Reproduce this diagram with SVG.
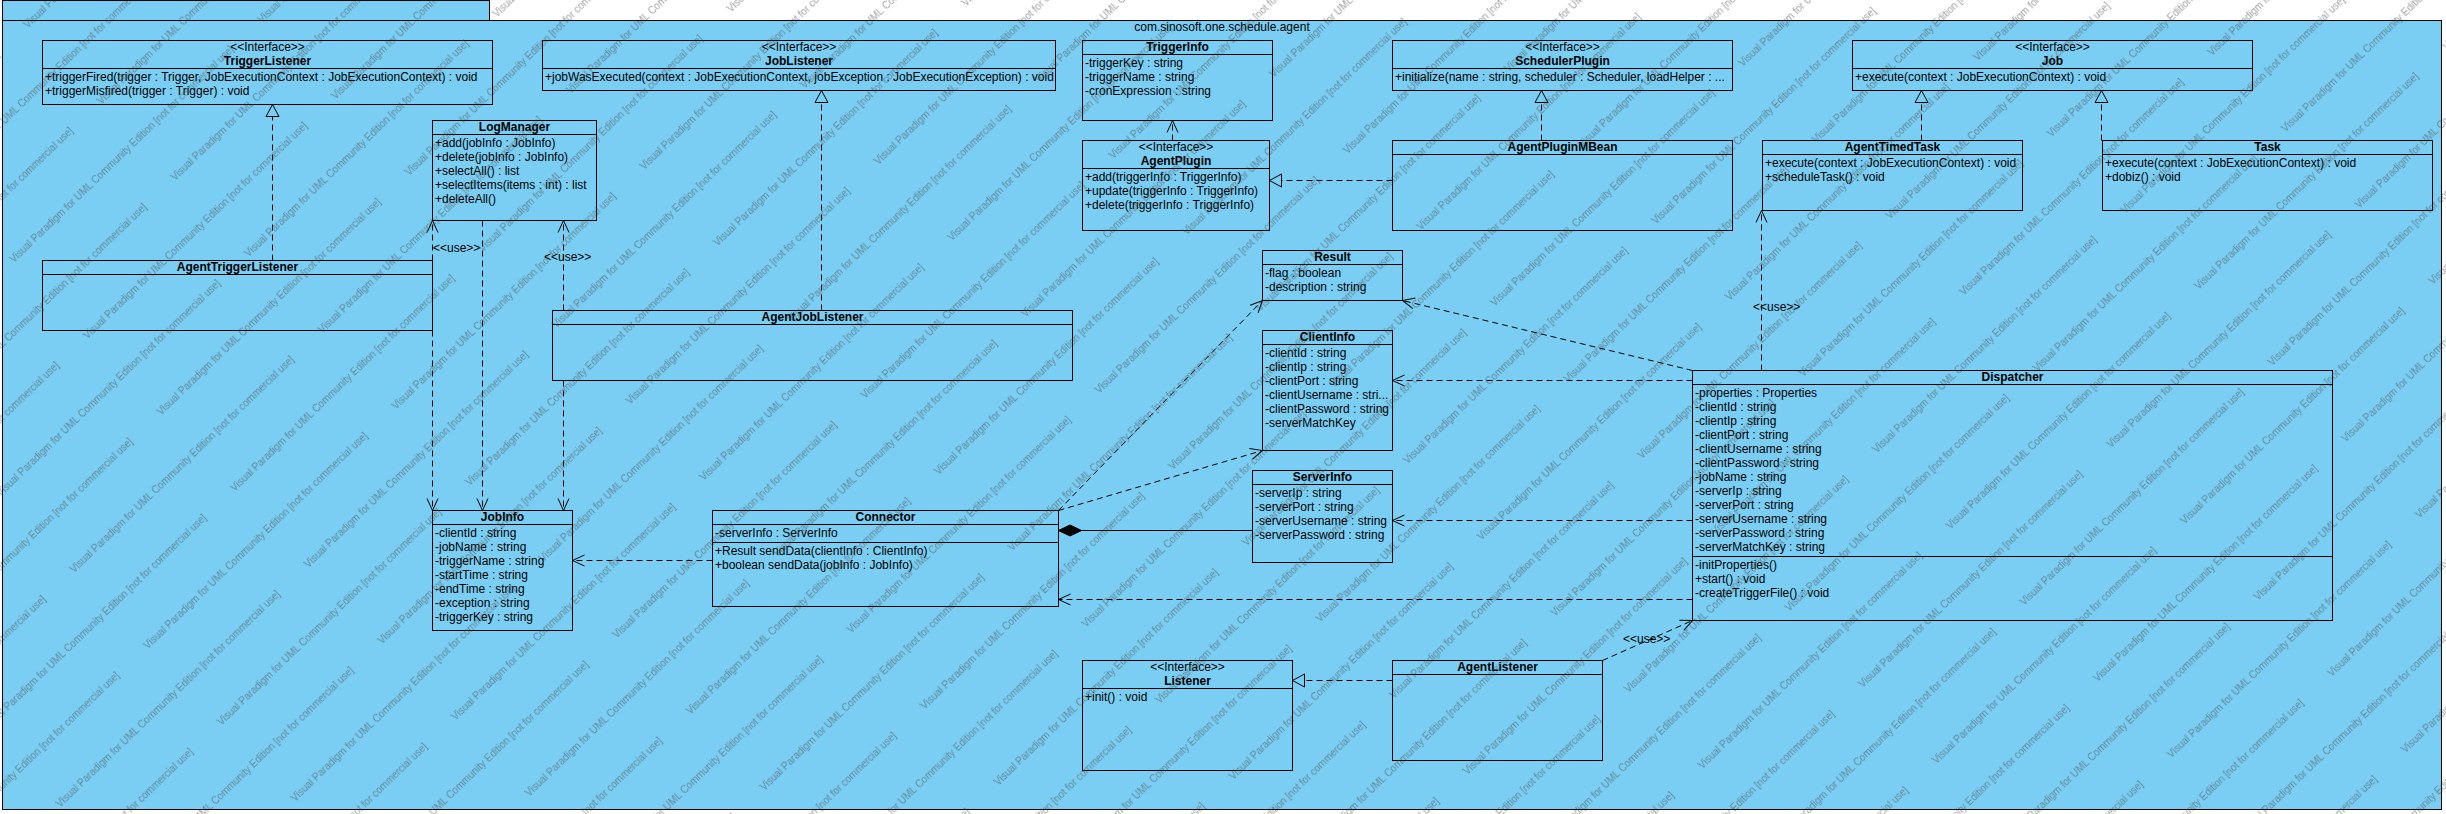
<svg xmlns="http://www.w3.org/2000/svg" width="2446" height="814" viewBox="0 0 2446 814">
<style>
.box{fill:#7BCEF3;stroke:#000;stroke-width:1}
.dv{stroke:#000;stroke-width:1}
.t{font-family:"Liberation Sans",Arial,sans-serif;font-size:12px;fill:#000}
.n{font-weight:bold;text-anchor:middle}
.c{text-anchor:middle}
.dash{fill:none;stroke:#000;stroke-width:1;stroke-dasharray:6,4}
.solid{fill:none;stroke:#000;stroke-width:1}
.wm{font-family:"Liberation Sans",Arial,sans-serif;font-size:10px;fill:#404040;fill-opacity:0.5}
</style>
<defs>
<marker id="open" markerUnits="userSpaceOnUse" viewBox="-1 -1 14 14" refX="12" refY="6" markerWidth="14" markerHeight="14" orient="auto">
<path d="M0,0.5 L12,6 L0,11.5" fill="none" stroke="#000" stroke-width="1"/>
</marker>
<marker id="tri" markerUnits="userSpaceOnUse" viewBox="-1 -1 15 16" refX="12" refY="6.5" markerWidth="15" markerHeight="16" orient="auto">
<path d="M0,0 L12,6.5 L0,13 Z" fill="#7BCEF3" stroke="#000" stroke-width="1"/>
</marker>
<marker id="dia" markerUnits="userSpaceOnUse" viewBox="-1 -1 25 13" refX="0" refY="5.5" markerWidth="25" markerHeight="13" orient="auto">
<path d="M0,5.5 L11.5,0 L23,5.5 L11.5,11 Z" fill="#000" stroke="#000" stroke-width="1"/>
</marker>
<pattern id="wm" patternUnits="userSpaceOnUse" width="345" height="106" patternTransform="rotate(-44)">
<text class="wm" x="0" y="40">Visual Paradigm for UML Community Edition [not for commercial use]</text>
<text class="wm" x="172" y="93">Visual Paradigm for UML Community Edition [not for commercial use]</text>
<text class="wm" x="-173" y="93">Visual Paradigm for UML Community Edition [not for commercial use]</text>
</pattern>
</defs>
<rect x="0" y="0" width="2446" height="814" fill="#fff"/>
<g id="package">
<rect class="box" x="2.5" y="0.5" width="487" height="20"/>
<rect class="box" x="2.5" y="20.5" width="2439" height="789"/>
<text class="t c" x="1222" y="31">com.sinosoft.one.schedule.agent</text>
</g>
<g id="TriggerListener">
<rect class="box" x="42.5" y="40.5" width="450" height="64"/>
<line class="dv" x1="42.5" y1="68.5" x2="492.5" y2="68.5"/>
<text class="t c" x="267.5" y="51">&lt;&lt;Interface&gt;&gt;</text>
<text class="t n" x="267.5" y="65">TriggerListener</text>
<text class="t" x="45" y="81">+triggerFired(trigger : Trigger, JobExecutionContext : JobExecutionContext) : void</text>
<text class="t" x="45" y="95">+triggerMisfired(trigger : Trigger) : void</text>
</g>
<g id="LogManager">
<rect class="box" x="432.5" y="120.5" width="164" height="100"/>
<line class="dv" x1="432.5" y1="134.5" x2="596.5" y2="134.5"/>
<text class="t n" x="514.5" y="131">LogManager</text>
<text class="t" x="435" y="147">+add(jobInfo : JobInfo)</text>
<text class="t" x="435" y="161">+delete(jobInfo : JobInfo)</text>
<text class="t" x="435" y="175">+selectAll() : list</text>
<text class="t" x="435" y="189">+selectItems(items : int) : list</text>
<text class="t" x="435" y="203">+deleteAll()</text>
</g>
<g id="AgentTriggerListener">
<rect class="box" x="42.5" y="260.5" width="390" height="70"/>
<line class="dv" x1="42.5" y1="274.5" x2="432.5" y2="274.5"/>
<text class="t n" x="237.5" y="271">AgentTriggerListener</text>
</g>
<g id="JobListener">
<rect class="box" x="542.5" y="40.5" width="513" height="50"/>
<line class="dv" x1="542.5" y1="68.5" x2="1055.5" y2="68.5"/>
<text class="t c" x="799" y="51">&lt;&lt;Interface&gt;&gt;</text>
<text class="t n" x="799" y="65">JobListener</text>
<text class="t" x="545" y="81">+jobWasExecuted(context : JobExecutionContext, jobException : JobExecutionException) : void</text>
</g>
<g id="AgentJobListener">
<rect class="box" x="552.5" y="310.5" width="520" height="70"/>
<line class="dv" x1="552.5" y1="324.5" x2="1072.5" y2="324.5"/>
<text class="t n" x="812.5" y="321">AgentJobListener</text>
</g>
<g id="TriggerInfo">
<rect class="box" x="1082.5" y="40.5" width="190" height="80"/>
<line class="dv" x1="1082.5" y1="54.5" x2="1272.5" y2="54.5"/>
<text class="t n" x="1177.5" y="51">TriggerInfo</text>
<text class="t" x="1085" y="67">-triggerKey : string</text>
<text class="t" x="1085" y="81">-triggerName : string</text>
<text class="t" x="1085" y="95">-cronExpression : string</text>
</g>
<g id="AgentPlugin">
<rect class="box" x="1082.5" y="140.5" width="187" height="90"/>
<line class="dv" x1="1082.5" y1="168.5" x2="1269.5" y2="168.5"/>
<text class="t c" x="1176" y="151">&lt;&lt;Interface&gt;&gt;</text>
<text class="t n" x="1176" y="165">AgentPlugin</text>
<text class="t" x="1085" y="181">+add(triggerInfo : TriggerInfo)</text>
<text class="t" x="1085" y="195">+update(triggerInfo : TriggerInfo)</text>
<text class="t" x="1085" y="209">+delete(triggerInfo : TriggerInfo)</text>
</g>
<g id="SchedulerPlugin">
<rect class="box" x="1392.5" y="40.5" width="340" height="50"/>
<line class="dv" x1="1392.5" y1="68.5" x2="1732.5" y2="68.5"/>
<text class="t c" x="1562.5" y="51">&lt;&lt;Interface&gt;&gt;</text>
<text class="t n" x="1562.5" y="65">SchedulerPlugin</text>
<text class="t" x="1395" y="81">+initialize(name : string, scheduler : Scheduler, loadHelper : ...</text>
</g>
<g id="AgentPluginMBean">
<rect class="box" x="1392.5" y="140.5" width="340" height="90"/>
<line class="dv" x1="1392.5" y1="154.5" x2="1732.5" y2="154.5"/>
<text class="t n" x="1562.5" y="151">AgentPluginMBean</text>
</g>
<g id="Job">
<rect class="box" x="1852.5" y="40.5" width="400" height="50"/>
<line class="dv" x1="1852.5" y1="68.5" x2="2252.5" y2="68.5"/>
<text class="t c" x="2052.5" y="51">&lt;&lt;Interface&gt;&gt;</text>
<text class="t n" x="2052.5" y="65">Job</text>
<text class="t" x="1855" y="81">+execute(context : JobExecutionContext) : void</text>
</g>
<g id="AgentTimedTask">
<rect class="box" x="1762.5" y="140.5" width="260" height="70"/>
<line class="dv" x1="1762.5" y1="154.5" x2="2022.5" y2="154.5"/>
<text class="t n" x="1892.5" y="151">AgentTimedTask</text>
<text class="t" x="1765" y="167">+execute(context : JobExecutionContext) : void</text>
<text class="t" x="1765" y="181">+scheduleTask() : void</text>
</g>
<g id="Task">
<rect class="box" x="2102.5" y="140.5" width="330" height="70"/>
<line class="dv" x1="2102.5" y1="154.5" x2="2432.5" y2="154.5"/>
<text class="t n" x="2267.5" y="151">Task</text>
<text class="t" x="2105" y="167">+execute(context : JobExecutionContext) : void</text>
<text class="t" x="2105" y="181">+dobiz() : void</text>
</g>
<g id="Result">
<rect class="box" x="1262.5" y="250.5" width="140" height="50"/>
<line class="dv" x1="1262.5" y1="264.5" x2="1402.5" y2="264.5"/>
<text class="t n" x="1332.5" y="261">Result</text>
<text class="t" x="1265" y="277">-flag : boolean</text>
<text class="t" x="1265" y="291">-description : string</text>
</g>
<g id="ClientInfo">
<rect class="box" x="1262.5" y="330.5" width="130" height="120"/>
<line class="dv" x1="1262.5" y1="344.5" x2="1392.5" y2="344.5"/>
<text class="t n" x="1327.5" y="341">ClientInfo</text>
<text class="t" x="1265" y="357">-clientId : string</text>
<text class="t" x="1265" y="371">-clientIp : string</text>
<text class="t" x="1265" y="385">-clientPort : string</text>
<text class="t" x="1265" y="399">-clientUsername : stri...</text>
<text class="t" x="1265" y="413">-clientPassword : string</text>
<text class="t" x="1265" y="427">-serverMatchKey</text>
</g>
<g id="ServerInfo">
<rect class="box" x="1252.5" y="470.5" width="140" height="92"/>
<line class="dv" x1="1252.5" y1="484.5" x2="1392.5" y2="484.5"/>
<text class="t n" x="1322.5" y="481">ServerInfo</text>
<text class="t" x="1255" y="497">-serverIp : string</text>
<text class="t" x="1255" y="511">-serverPort : string</text>
<text class="t" x="1255" y="525">-serverUsername : string</text>
<text class="t" x="1255" y="539">-serverPassword : string</text>
</g>
<g id="Connector">
<rect class="box" x="712.5" y="510.5" width="346" height="96"/>
<line class="dv" x1="712.5" y1="524.5" x2="1058.5" y2="524.5"/>
<line class="dv" x1="712.5" y1="542.5" x2="1058.5" y2="542.5"/>
<text class="t n" x="885.5" y="521">Connector</text>
<text class="t" x="715" y="537">-serverInfo : ServerInfo</text>
<text class="t" x="715" y="555">+Result sendData(clientInfo : ClientInfo)</text>
<text class="t" x="715" y="569">+boolean sendData(jobInfo : JobInfo)</text>
</g>
<g id="JobInfo">
<rect class="box" x="432.5" y="510.5" width="140" height="120"/>
<line class="dv" x1="432.5" y1="524.5" x2="572.5" y2="524.5"/>
<text class="t n" x="502.5" y="521">JobInfo</text>
<text class="t" x="435" y="537">-clientId : string</text>
<text class="t" x="435" y="551">-jobName : string</text>
<text class="t" x="435" y="565">-triggerName : string</text>
<text class="t" x="435" y="579">-startTime : string</text>
<text class="t" x="435" y="593">-endTime : string</text>
<text class="t" x="435" y="607">-exception : string</text>
<text class="t" x="435" y="621">-triggerKey : string</text>
</g>
<g id="Dispatcher">
<rect class="box" x="1692.5" y="370.5" width="640" height="250"/>
<line class="dv" x1="1692.5" y1="384.5" x2="2332.5" y2="384.5"/>
<line class="dv" x1="1692.5" y1="556.5" x2="2332.5" y2="556.5"/>
<text class="t n" x="2012.5" y="381">Dispatcher</text>
<text class="t" x="1695" y="397">-properties : Properties</text>
<text class="t" x="1695" y="411">-clientId : string</text>
<text class="t" x="1695" y="425">-clientIp : string</text>
<text class="t" x="1695" y="439">-clientPort : string</text>
<text class="t" x="1695" y="453">-clientUsername : string</text>
<text class="t" x="1695" y="467">-clientPassword : string</text>
<text class="t" x="1695" y="481">-jobName : string</text>
<text class="t" x="1695" y="495">-serverIp : string</text>
<text class="t" x="1695" y="509">-serverPort : string</text>
<text class="t" x="1695" y="523">-serverUsername : string</text>
<text class="t" x="1695" y="537">-serverPassword : string</text>
<text class="t" x="1695" y="551">-serverMatchKey : string</text>
<text class="t" x="1695" y="569">-initProperties()</text>
<text class="t" x="1695" y="583">+start() : void</text>
<text class="t" x="1695" y="597">-createTriggerFile() : void</text>
</g>
<g id="Listener">
<rect class="box" x="1082.5" y="660.5" width="210" height="110"/>
<line class="dv" x1="1082.5" y1="688.5" x2="1292.5" y2="688.5"/>
<text class="t c" x="1187.5" y="671">&lt;&lt;Interface&gt;&gt;</text>
<text class="t n" x="1187.5" y="685">Listener</text>
<text class="t" x="1085" y="701">+init() : void</text>
</g>
<g id="AgentListener">
<rect class="box" x="1392.5" y="660.5" width="210" height="100"/>
<line class="dv" x1="1392.5" y1="674.5" x2="1602.5" y2="674.5"/>
<text class="t n" x="1497.5" y="671">AgentListener</text>
</g>
<g id="connectors">
<path class="dash" d="M272.5,260.5 L272.5,104.5" marker-end="url(#tri)"/>
<path class="dash" d="M821.5,310.5 L821.5,90.5" marker-end="url(#tri)"/>
<path class="dash" d="M1541.5,140.5 L1541.5,90.5" marker-end="url(#tri)"/>
<path class="dash" d="M1392.5,180.5 L1269.5,180.5" marker-end="url(#tri)"/>
<path class="dash" d="M1921.5,140.5 L1921.5,90.5" marker-end="url(#tri)"/>
<path class="dash" d="M2101.5,140.5 L2101.5,90.5" marker-end="url(#tri)"/>
<path class="dash" d="M1392.5,680.5 L1292.5,680.5" marker-end="url(#tri)"/>
<path class="dash" d="M432.5,260.5 L432.5,220.5" marker-end="url(#open)"/>
<text class="t" x="433" y="252">&lt;&lt;use&gt;&gt;</text>
<path class="dash" d="M432.5,330.5 L432.5,510.5" marker-end="url(#open)"/>
<path class="dash" d="M482.5,220.5 L482.5,510.5" marker-end="url(#open)"/>
<path class="dash" d="M563.5,310.5 L563.5,220.5" marker-end="url(#open)"/>
<text class="t" x="544" y="261">&lt;&lt;use&gt;&gt;</text>
<path class="dash" d="M563.5,380.5 L563.5,510.5" marker-end="url(#open)"/>
<path class="dash" d="M1172.5,140.5 L1172.5,120.5" marker-end="url(#open)"/>
<path class="dash" d="M712.5,560.5 L572.5,560.5" marker-end="url(#open)"/>
<path class="dash" d="M1058.5,510.5 L1262.5,300.5" marker-end="url(#open)"/>
<path class="dash" d="M1058.5,510.5 L1262.5,450.5" marker-end="url(#open)"/>
<path class="solid" d="M1058.5,530.5 L1252.5,530.5" marker-start="url(#dia)"/>
<path class="dash" d="M1692.5,370.5 L1402.5,300.5" marker-end="url(#open)"/>
<path class="dash" d="M1692.5,380.5 L1392.5,380.5" marker-end="url(#open)"/>
<path class="dash" d="M1692.5,520.5 L1392.5,520.5" marker-end="url(#open)"/>
<path class="dash" d="M1692.5,599.5 L1058.5,599.5" marker-end="url(#open)"/>
<path class="dash" d="M1761.5,370.5 L1761.5,210.5" marker-end="url(#open)"/>
<text class="t" x="1753" y="311">&lt;&lt;use&gt;&gt;</text>
<path class="dash" d="M1602.5,660.5 L1692.5,620.5" marker-end="url(#open)"/>
<text class="t" x="1623" y="643">&lt;&lt;use&gt;&gt;</text>
</g>
<rect x="0" y="0" width="2446" height="814" fill="url(#wm)" pointer-events="none"/>
</svg>
